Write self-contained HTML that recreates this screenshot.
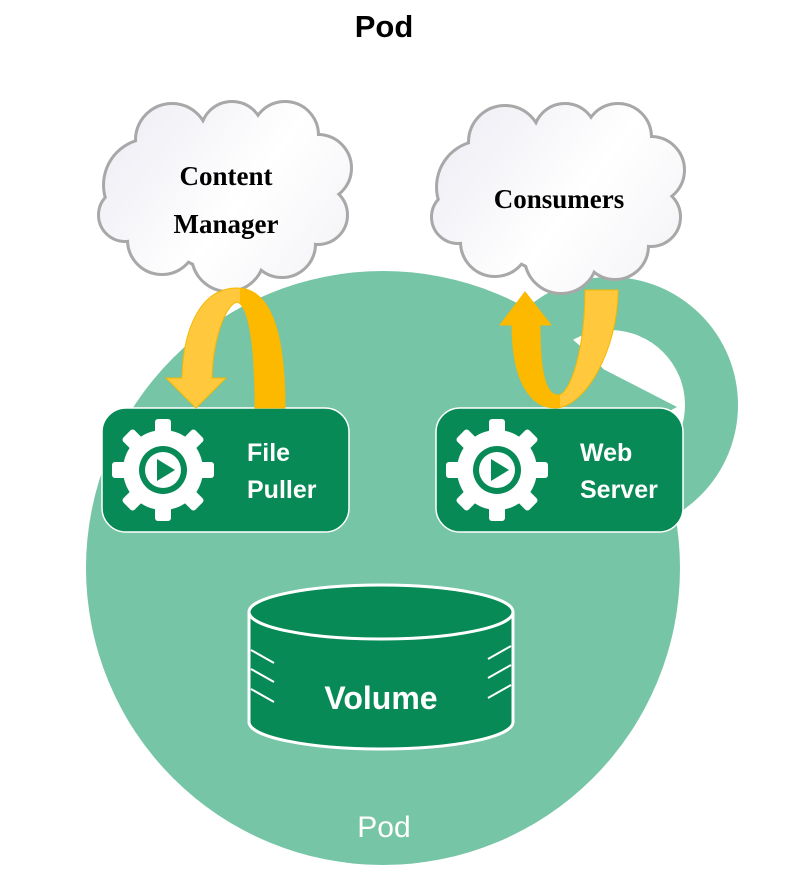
<!DOCTYPE html>
<html><head><meta charset="utf-8"><style>
body{margin:0;background:#fff;}
svg{display:block}
</style></head><body>
<svg width="791" height="871" viewBox="0 0 791 871" xmlns="http://www.w3.org/2000/svg">
<defs>
<linearGradient id="cg" gradientUnits="userSpaceOnUse" x1="100" y1="100" x2="350" y2="290">
<stop offset="0" stop-color="#ebebf3"/><stop offset="0.55" stop-color="#ffffff"/><stop offset="1" stop-color="#f2f2f6"/>
</linearGradient>
<clipPath id="lr"><rect x="240" y="250" width="100" height="200"/></clipPath>
<clipPath id="rl"><rect x="480" y="250" width="80" height="200"/></clipPath>
<g id="cloud">
<circle cx="150" cy="185" r="45"/><circle cx="172" cy="140" r="35"/><circle cx="232" cy="133" r="30"/>
<circle cx="285" cy="135" r="32"/><circle cx="318" cy="168" r="32"/><circle cx="318" cy="215" r="28"/>
<circle cx="282" cy="244" r="32"/><circle cx="228" cy="255" r="35"/><circle cx="162" cy="240" r="33"/>
<circle cx="125" cy="215" r="25"/><circle cx="225" cy="195" r="75"/>
</g>
<g id="gear">
<circle r="40" fill="#fff"/>
<g fill="#fff">
<rect x="-8" y="-51" width="16" height="22" rx="3"/>
<rect x="-8" y="-51" width="16" height="22" rx="3" transform="rotate(45)"/>
<rect x="-8" y="-51" width="16" height="22" rx="3" transform="rotate(90)"/>
<rect x="-8" y="-51" width="16" height="22" rx="3" transform="rotate(135)"/>
<rect x="-8" y="-51" width="16" height="22" rx="3" transform="rotate(180)"/>
<rect x="-8" y="-51" width="16" height="22" rx="3" transform="rotate(225)"/>
<rect x="-8" y="-51" width="16" height="22" rx="3" transform="rotate(270)"/>
<rect x="-8" y="-51" width="16" height="22" rx="3" transform="rotate(315)"/>
</g>
<circle r="24" fill="#078a56"/><circle r="18" fill="#fff"/>
<path d="M-6,-11 L12,0 L-6,11 Z" fill="#078a56"/>
</g>
</defs>

<text x="384" y="37" text-anchor="middle" font-family="Liberation Sans, sans-serif" font-weight="bold" font-size="31">Pod</text>

<circle cx="610" cy="405" r="128" fill="#76c5a6"/>
<circle cx="610" cy="405" r="75" fill="#fff"/>
<path d="M570,352 L677,407 L570,462 Z" fill="#76c5a6"/>
<circle cx="383" cy="568" r="297" fill="#76c5a6"/>

<g stroke="#a8a8a8" stroke-width="6"><use href="#cloud"/></g>
<g fill="url(#cg)"><use href="#cloud"/></g>
<g transform="translate(333,2)">
<g stroke="#a8a8a8" stroke-width="6"><use href="#cloud"/></g>
<g fill="url(#cg)"><use href="#cloud"/></g>
</g>
<g font-family="Liberation Serif, serif" font-weight="bold" font-size="27" text-anchor="middle" fill="#000">
<text x="226" y="185">Content</text>
<text x="226" y="233">Manager</text>
<text x="559" y="208">Consumers</text>
</g>

<rect x="102" y="408" width="247" height="124" rx="24" fill="#078a56" stroke="#fff" stroke-width="1.5"/>
<rect x="436" y="408" width="247" height="124" rx="24" fill="#078a56" stroke="#fff" stroke-width="1.5"/>
<use href="#gear" transform="translate(163,470)"/>
<use href="#gear" transform="translate(497,470)"/>
<g font-family="Liberation Sans, sans-serif" font-weight="bold" font-size="25" fill="#fff">
<text x="247" y="461">File</text>
<text x="247" y="498">Puller</text>
<text x="580" y="461">Web</text>
<text x="580" y="498">Server</text>
</g>

<path d="M285,408 L255,408 C255,340 248,305 237,302 C225,305 213,340 212,378 L226,378 L196,408 L166,378 L182,378 C183,330 200,288 237,288 C270,288 285,330 285,408 Z" fill="#ffc83d" stroke="#f5b800" stroke-width="1"/>
<path d="M285,408 L255,408 C255,340 248,305 237,302 C225,305 213,340 212,378 L226,378 L196,408 L166,378 L182,378 C183,330 200,288 237,288 C270,288 285,330 285,408 Z" fill="#fdb900" clip-path="url(#lr)"/>
<path d="M512,325 C512,380 530,408 555,408 C585,408 618,350 618,290 L585,290 C585,350 570,395 558,395 C545,395 540,370 540,325 L551,325 L525,292 L500,325 Z" fill="#ffc83d" stroke="#f5b800" stroke-width="1"/>
<path d="M512,325 C512,380 530,408 555,408 C585,408 618,350 618,290 L585,290 C585,350 570,395 558,395 C545,395 540,370 540,325 L551,325 L525,292 L500,325 Z" fill="#fdb900" clip-path="url(#rl)"/>

<path d="M249,612 L249,722 A132,27 0 0 0 513,722 L513,612" fill="#078a56" stroke="#fff" stroke-width="3"/>
<ellipse cx="381" cy="612" rx="132" ry="27" fill="#078a56" stroke="#fff" stroke-width="3"/>
<g stroke="#fff" stroke-width="2">
<line x1="251" y1="650" x2="274" y2="663"/><line x1="251" y1="669" x2="274" y2="682"/><line x1="251" y1="689" x2="274" y2="702"/>
<line x1="511" y1="646" x2="488" y2="659"/><line x1="511" y1="665" x2="488" y2="678"/><line x1="511" y1="685" x2="488" y2="698"/>
</g>
<text x="381" y="709" text-anchor="middle" font-family="Liberation Sans, sans-serif" font-weight="bold" font-size="32" fill="#fff">Volume</text>
<text x="384" y="837" text-anchor="middle" font-family="Liberation Sans, sans-serif" font-size="30" fill="#fff">Pod</text>
</svg>
</body></html>
